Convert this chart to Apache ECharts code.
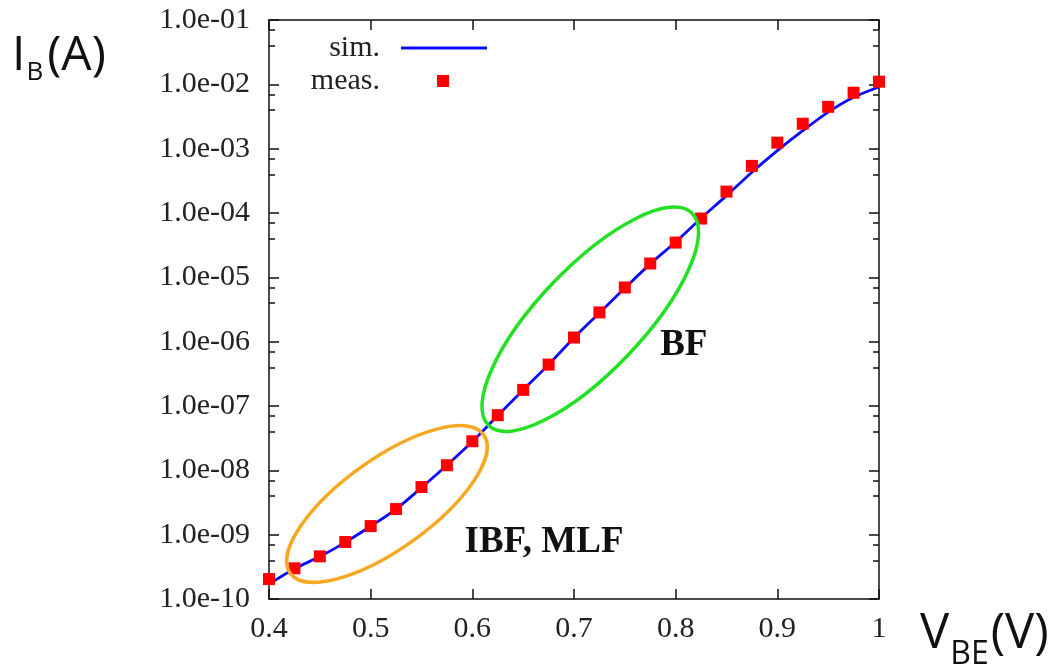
<!DOCTYPE html>
<html>
<head>
<meta charset="utf-8">
<script src="https://cdn.jsdelivr.net/npm/echarts@6/dist/echarts.min.js"></script>
<style>
html,body{margin:0;padding:0;background:#fff;}
#c{width:1061px;height:664px;}
</style>
</head>
<body>
<div id="c"></div>
<script>
// ---- data ----
const vbe = [0.4, 0.425, 0.45, 0.475, 0.5, 0.525, 0.55, 0.575, 0.6, 0.625, 0.65, 0.675, 0.7,
             0.725, 0.75, 0.775, 0.8, 0.825, 0.85, 0.875, 0.9, 0.925, 0.95, 0.975, 1.0];
const ibMeas = [2.04e-10, 3.0e-10, 4.6e-10, 7.7e-10, 1.36e-9, 2.5e-9, 5.5e-9, 1.2e-8, 2.83e-8,
                7.2e-8, 1.78e-7, 4.4e-7, 1.16e-6, 2.85e-6, 6.95e-6, 1.64e-5, 3.47e-5, 8.2e-5,
                2.15e-4, 5.4e-4, 1.24e-3, 2.44e-3, 4.47e-3, 7.4e-3, 1.1e-2];
const ibSim = [1.7e-10, 2.95e-10, 4.57e-10, 7.6e-10, 1.35e-9, 2.5e-9, 5.4e-9, 1.2e-8, 2.8e-8,
               7.1e-8, 1.78e-7, 4.4e-7, 1.15e-6, 2.8e-6, 6.8e-6, 1.62e-5, 3.55e-5, 8.3e-5,
               1.86e-4, 4.3e-4, 9.3e-4, 1.9e-3, 3.7e-3, 6.3e-3, 9.1e-3];
const seriesNames = ['sim.', 'meas.'];
// annotation regions (data coords of centres) and labels
const regionCentres = [[0.516, 3.0e-9], [0.716, 2.23e-6]];
const regionLabels = [['IBF, MLF', 0.6705, 7.7e-10], ['BF', 0.808, 8.8e-7]];
// axis titles: [main, subscript, tail]
const yTitle = ['I', 'B', '(A)'];
const xTitle = ['V', 'BE', '(V)'];

const simData = vbe.map((v, i) => [v, ibSim[i]]);
const measData = vbe.map((v, i) => [v, ibMeas[i]]);

const serif = '"Liberation Serif", "Times New Roman", serif';
const sans = '"Open Sans", "DejaVu Sans", sans-serif';
const tickFont = 30;

const chart = echarts.init(document.getElementById('c'), null, {renderer: 'canvas'});

function fmtExp(v) {
  const e = Math.round(Math.log10(v));
  return '1.0e' + (e < 0 ? '-' : '+') + String(Math.abs(e)).padStart(2, '0');
}

const axisLine = {show: true, lineStyle: {color: '#111', width: 1.5}};
const tickStyle = {color: '#111', width: 1.5};
const option = {
  animation: false,
  backgroundColor: '#fff',
  grid: {left: 269, right: 182, top: 20, bottom: 65, containLabel: false},
  legend: [
    {data: [{name: seriesNames[0], icon: 'rect'}], right: 574, top: 33, padding: 0, align: 'right',
     itemWidth: 86, itemHeight: 3,
     textStyle: {fontFamily: serif, fontSize: tickFont, color: '#222', padding: [0, 16, 0, 0]}},
    {data: [{name: seriesNames[1], icon: 'rect'}], right: 612, top: 66, padding: 0, align: 'right',
     itemWidth: 12, itemHeight: 12,
     textStyle: {fontFamily: serif, fontSize: tickFont, color: '#222', padding: [0, 52, 0, 0]}}
  ],
  xAxis: [
    {type: 'value', min: 0.4, max: 1.0, interval: 0.1, position: 'bottom',
     axisLine: axisLine, splitLine: {show: false},
     axisTick: {inside: true, length: 10, lineStyle: tickStyle},
     axisLabel: {margin: 15, fontFamily: serif, fontSize: tickFont, color: '#222',
       formatter: v => (Math.abs(v - 1) < 1e-9 ? '1' : v.toFixed(1))}},
    {type: 'value', min: 0.4, max: 1.0, interval: 0.1, position: 'top',
     axisLine: axisLine, splitLine: {show: false},
     axisTick: {inside: true, length: 10, lineStyle: tickStyle},
     axisLabel: {show: false}}
  ],
  yAxis: [
    {type: 'log', logBase: 10, min: 1e-10, max: 1e-1, interval: 1, position: 'left',
     axisLine: axisLine, splitLine: {show: false},
     axisTick: {inside: true, length: 10, lineStyle: tickStyle},
     minorTick: {show: true, splitNumber: 3, length: 6, lineStyle: tickStyle},
     axisLabel: {margin: 19, fontFamily: serif, fontSize: tickFont, color: '#222', formatter: fmtExp}},
    {type: 'log', logBase: 10, min: 1e-10, max: 1e-1, interval: 1, position: 'right',
     axisLine: axisLine, splitLine: {show: false},
     axisTick: {inside: true, length: 10, lineStyle: tickStyle},
     minorTick: {show: true, splitNumber: 3, length: 6, lineStyle: tickStyle},
     axisLabel: {show: false}}
  ],
  series: [
    {name: seriesNames[0], type: 'line', data: simData, smooth: 0.3, symbol: 'none',
     xAxisIndex: 0, yAxisIndex: 0, z: 2,
     lineStyle: {color: '#0a0aff', width: 2.8}, itemStyle: {color: '#0a0aff'}},
    {name: seriesNames[1], type: 'scatter', data: measData, symbol: 'rect', symbolSize: 12,
     xAxisIndex: 0, yAxisIndex: 0, z: 3, clip: false,
     itemStyle: {color: '#ff0000', opacity: 1}}
  ]
};
chart.setOption(option);

// annotations: ellipses and labels positioned through the chart's own scales
const ellipseStyles = [
  {rx: 119, ry: 45, rot: 35.6, color: '#f7a823'},
  {rx: 147, ry: 52, rot: 46.3, color: '#22e022'}
];
const graphics = [];
regionCentres.forEach((c, i) => {
  const p = chart.convertToPixel({xAxisIndex: 0, yAxisIndex: 0}, c);
  const s = ellipseStyles[i];
  graphics.push({type: 'ellipse', x: p[0], y: p[1], rotation: s.rot * Math.PI / 180, z: 10,
    shape: {cx: 0, cy: 0, rx: s.rx, ry: s.ry},
    style: {fill: 'none', stroke: s.color, lineWidth: 3.5}});
});
regionLabels.forEach(l => {
  const p = chart.convertToPixel({xAxisIndex: 0, yAxisIndex: 0}, [l[1], l[2]]);
  graphics.push({type: 'text', x: p[0], y: p[1], z: 10,
    style: {text: l[0], font: 'bold 37px ' + serif, fill: '#111', align: 'center', verticalAlign: 'middle'}});
});

// axis titles with subscripts, built from separately measured pieces
const mctx = document.createElement('canvas').getContext('2d');
function measure(t, f) { mctx.font = f; return mctx.measureText(t).width; }
function addTitle(parts, x0, yTop, mainSize, subSize, subTop, gapAfterSub) {
  const fMain = mainSize + 'px ' + sans, fSub = subSize + 'px ' + sans;
  const w0 = measure(parts[0], fMain), w1 = measure(parts[1], fSub);
  const common = {fill: '#111', verticalAlign: 'top', align: 'left'};
  graphics.push({type: 'text', x: x0, y: yTop, z: 10, style: Object.assign({text: parts[0], font: fMain}, common)});
  graphics.push({type: 'text', x: x0 + w0 + 1, y: subTop, z: 10, style: Object.assign({text: parts[1], font: fSub}, common)});
  graphics.push({type: 'text', x: x0 + w0 + w1 + 1 + gapAfterSub, y: yTop, z: 10, style: Object.assign({text: parts[2], font: fMain}, common)});
}
addTitle(yTitle, 12, 32, 48, 26, 60, 4);
addTitle(xTitle, 920, 610, 49, 32, 639, 2);
chart.setOption({graphic: graphics});
</script>
</body>
</html>
